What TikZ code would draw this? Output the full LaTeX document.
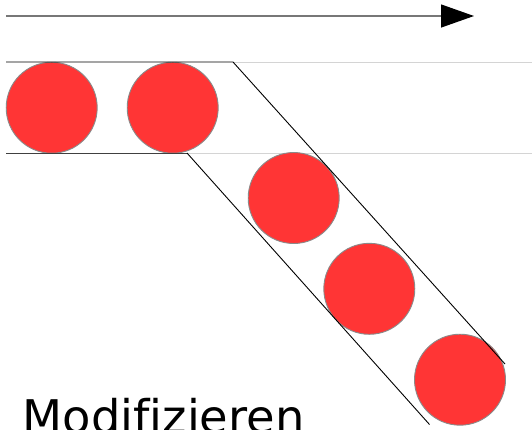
\documentclass[tikz,border=0pt]{standalone}
\usepackage{fontspec}
\setmainfont{DejaVu Sans}[Ligatures=NoCommon]
\usetikzlibrary{arrows.meta}
\definecolor{ballred}{HTML}{FF3535}
\definecolor{ballrim}{HTML}{8A8A8A}
\definecolor{guide}{HTML}{D4D4D4}
\definecolor{arrowgray}{HTML}{777777}
\tikzset{
  ball/.style={circle, minimum size=91pt, inner sep=0pt, fill=ballred, draw=ballrim, line width=0.9pt},
  wall/.style={black, line width=0.9pt},
  guideline/.style={guide, line width=1pt},
}
\begin{document}
\begin{tikzpicture}[x=1pt, y=-1pt]
  \useasboundingbox (0,0) rectangle (532,429);
  \clip (0,0) rectangle (532,429);

  % direction arrow
  \coordinate (arrowstart) at (6,16);
  \coordinate (arrowtip) at (474,16);
  \draw[arrowgray, line width=1.3pt, -{Triangle[length=33pt, width=23pt, color=black, fill=black]}] (arrowstart) -- (arrowtip);

  % channel corners
  \coordinate (tl) at (6,62);
  \coordinate (tk) at (233,62);
  \coordinate (te) at (505,364);
  \coordinate (bl) at (6,153);
  \coordinate (bk) at (187,153);
  \coordinate (be) at (429.5,424.5);
  \coordinate (tr) at (532,62);
  \coordinate (br) at (532,153);

  % light guide lines
  \draw[guideline] (tk) -- (tr);
  \draw[guideline] (bk) -- (br);

  % balls
  \node[ball] (b1) at (51.7,107.7) {};
  \node[ball] (b2) at (172.7,107.7) {};
  \node[ball] (b3) at (293.7,198) {};
  \node[ball] (b4) at (369.3,288.8) {};
  \node[ball] (b5) at (460,379.7) {};

  % channel walls
  \draw[wall] (tl) -- (tk) -- (te);
  \draw[wall, draw=black!75] (bl) -- (bk);
  \draw[wall] (bk) -- (be);

  % caption
  \node[anchor=base west, inner sep=0pt, font=\fontsize{46.4pt}{50pt}\selectfont] (caption) at (22.5,433) {Modifizieren};
\end{tikzpicture}
\end{document}
